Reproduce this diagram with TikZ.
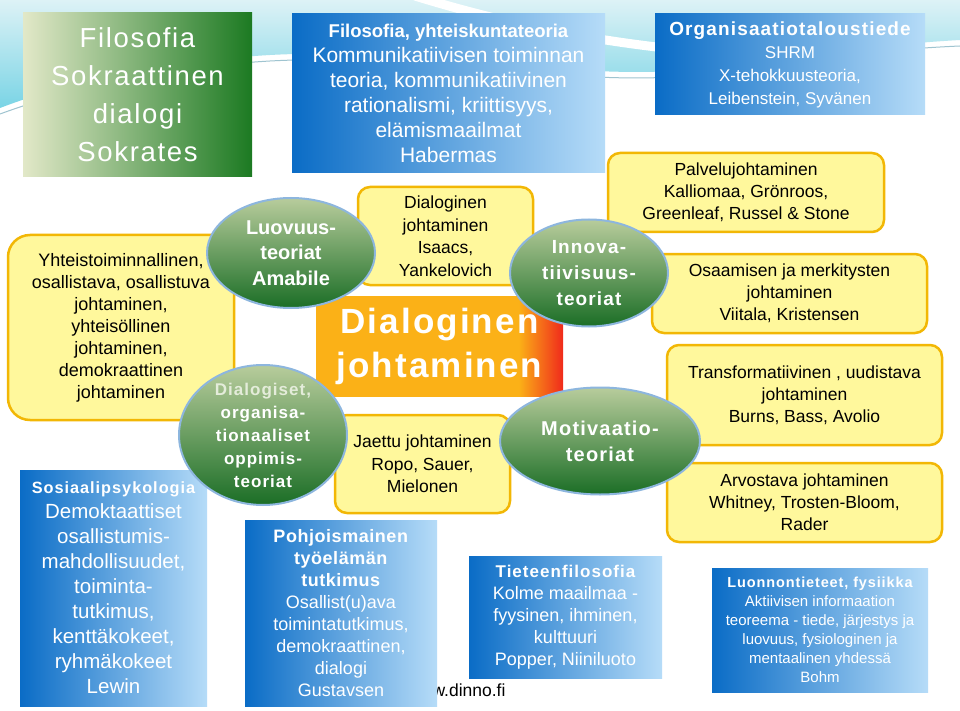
\documentclass[tikz,border=0pt]{standalone}
\usepackage{fontspec}
\setmainfont{Liberation Sans}
\newfontfamily\spacedfont[LetterSpace=6]{Liberation Sans}
\newfontfamily\lightspaced[LetterSpace=3]{Liberation Sans}
\usetikzlibrary{shapes.geometric}
\definecolor{blueD}{HTML}{0A6CC6}
\definecolor{blueL}{HTML}{B6DCF8}
\definecolor{grnL}{HTML}{E2E8C8}
\definecolor{grnD}{HTML}{1C7A22}
\definecolor{yelF}{HTML}{FFF89C}
\definecolor{yelB}{HTML}{F2B705}
\definecolor{hubA}{HTML}{FBB117}
\definecolor{hubR}{HTML}{F02A1C}
\definecolor{ballT}{HTML}{B8CC9C}
\definecolor{ballB}{HTML}{1B6E26}
\definecolor{ballE}{HTML}{8DB6DE}
\definecolor{ballF}{HTML}{E4ECDA}
\definecolor{bandT}{HTML}{DDF2F6}
\definecolor{bandB}{HTML}{7AD4E5}
\definecolor{bandE}{HTML}{9FC4D0}
\pgfdeclarehorizontalshading{hubshade}{100bp}{color(0bp)=(hubA); color(25bp)=(hubA); color(66bp)=(hubA); color(75bp)=(hubR); color(100bp)=(hubR)}
\newcommand\setfs[2]{\fontsize{#1}{#2}\selectfont}

\begin{document}
\begin{tikzpicture}[x=1pt, y=-1pt,
    bluebox/.style={left color=blueD, right color=blueL, text=white, align=center, inner sep=0pt},
    greenbox/.style={left color=grnL, right color=grnD, text=white, align=center, inner sep=0pt, font=\spacedfont\setfs{27.5}{38}},
    yellowbox/.style={draw=yelB, line width=2.5pt, fill=yelF, rounded corners=12pt, align=center, inner sep=0pt, font=\setfs{17.5}{22}},
    hubbox/.style={shade, shading=hubshade, text=white, align=center, inner sep=0pt, font=\spacedfont\bfseries\setfs{35}{44}},
    ball/.style={ellipse, draw=ballE, line width=2pt, top color=ballT, bottom color=ballB, inner sep=0pt},
    balltext/.style={text=white, align=center, font=\spacedfont\bfseries\setfs{19}{25.5}}
]
\fill[white] (0,0) rectangle (960,711);
\useasboundingbox (0,0) rectangle (960,711);
\shade[top color=bandT, bottom color=bandB] (0,0) -- (960,0) -- (960,40) .. controls (820,48) and (720,72) .. (640,72) .. controls (520,72) and (400,48) .. (270,55) .. controls (150,62) and (60,85) .. (0,108) -- cycle;
\draw[white, line width=9pt] (415,-4) .. controls (480,16) and (560,36) .. (665,48);
\draw[bandE, line width=1pt] (0,114) .. controls (60,92) and (150,68) .. (270,61) .. controls (400,54) and (520,78) .. (640,78) .. controls (720,78) and (820,52) .. (960,46);

\node[greenbox, minimum width=229, minimum height=164] (filo) at (137.5,95) {Filosofia\\Sokraattinen\\dialogi\\Sokrates};
\node[bluebox, minimum width=313, minimum height=159, font=\setfs{21}{25}] (haber) at (448.5,93.5) {{\bfseries\setfs{18.5}{25}Filosofia, yhteiskuntateoria}\\Kommunikatiivisen toiminnan\\teoria, kommunikatiivinen\\rationalismi, kriittisyys,\\elämismaailmat\\Habermas};
\node[bluebox, minimum width=270, minimum height=101, font=\setfs{17}{23}] (orgtal) at (790,64.5) {{\spacedfont\bfseries\setfs{19}{23}Organisaatiotaloustiede}\\SHRM\\X-tehokkuusteoria,\\Leibenstein, Syvänen};

\node[yellowbox, minimum width=276, minimum height=79] (palvelu) at (746,192.5) {Palvelujohtaminen\\Kalliomaa, Grönroos,\\Greenleaf, Russel \& Stone};
\node[yellowbox, minimum width=275, minimum height=79] (osaaminen) at (789.5,293.5) {Osaamisen ja merkitysten\\johtaminen\\Viitala, Kristensen};
\node[yellowbox, minimum width=275, minimum height=100] (transf) at (804.5,395) {Transformatiivinen , uudistava\\johtaminen\\Burns, Bass, Avolio};
\node[yellowbox, minimum width=275, minimum height=79] (arvostava) at (804.5,502.5) {Arvostava johtaminen\\Whitney, Trosten-Bloom,\\Rader};

\node[bluebox, minimum width=216, minimum height=124, font=\setfs{15}{19}] (luonto) at (820,630) {{\spacedfont\bfseries\setfs{14.5}{19}Luonnontieteet, fysiikka}\\Aktiivisen informaation\\teoreema - tiede, järjestys ja\\luovuus, fysiologinen ja\\mentaalinen yhdessä\\Bohm};
\node[bluebox, minimum width=193, minimum height=122, font=\setfs{18}{22}] (tiede) at (565.5,617) {{\spacedfont\bfseries\setfs{17}{22}Tieteenfilosofia}\\Kolme maailmaa -\\fyysinen, ihminen,\\kulttuuri\\Popper, Niiniluoto};

\node[anchor=east, font=\setfs{17.5}{22}] (www) at (509,690) {www.dinno.fi};
\node[bluebox, minimum width=192, minimum height=186, font=\setfs{18}{22}] (pohjoinen) at (341,613) {\textbf{\lightspaced Pohjoismainen}\\\textbf{\lightspaced työelämän}\\\textbf{\lightspaced tutkimus}\\Osallist(u)ava\\toimintatutkimus,\\demokraattinen,\\dialogi\\Gustavsen};
\node[bluebox, minimum width=187, minimum height=236, font=\setfs{20.5}{25}] (sospsyk) at (113.5,588) {{\spacedfont\bfseries\setfs{16.3}{25}Sosiaalipsykologia}\\Demoktaattiset\\osallistumis-\\mahdollisuudet,\\toiminta-\\tutkimus,\\kenttäkokeet,\\ryhmäkokeet\\Lewin};

\node[yellowbox, rounded corners=22pt, minimum width=226, minimum height=185, font=\setfs{18}{22}] (yhteis) at (121,327.5) {Yhteistoiminnallinen,\\osallistava, osallistuva\\johtaminen,\\yhteisöllinen\\johtaminen,\\demokraattinen\\johtaminen};
\node[yellowbox, minimum width=175, minimum height=98, font=\setfs{17.5}{22.5}] (isaacs) at (445.5,236) {Dialoginen\\johtaminen\\Isaacs,\\Yankelovich};
\node[yellowbox, minimum width=175, minimum height=98, font=\setfs{17.5}{22.5}] (jaettu) at (422.5,464) {Jaettu johtaminen\\Ropo, Sauer,\\Mielonen};
\node[hubbox, minimum width=247, minimum height=100] (hub) at (439.5,346) {Dialoginen\\johtaminen};

\node[ball, minimum width=168, minimum height=110] (luovuus) at (291,253) {};
\node[balltext, font=\bfseries\setfs{20}{25.5}] (luovuusT) at (luovuus) {Luovuus-\\teoriat\\Amabile};
\node[ball, minimum width=168, minimum height=140] (dialogiset) at (263,435) {};
\node[balltext, font=\spacedfont\bfseries\setfs{17}{23}] (dialogisetT) at (dialogiset) {\textcolor{ballF}{Dialogiset,}\\organisa-\\tionaaliset\\oppimis-\\teoriat};
\node[ball, minimum width=158, minimum height=107] (innova) at (589,273) {};
\node[balltext, font=\spacedfont\bfseries\setfs{19}{26}] (innovaT) at (innova) {Innova-\\tiivisuus-\\teoriat};
\node[ball, minimum width=200, minimum height=107] (motiv) at (600,441) {};
\node[balltext, font=\spacedfont\bfseries\setfs{20}{26}] (motivT) at (motiv) {Motivaatio-\\teoriat};
\end{tikzpicture}
\end{document}
